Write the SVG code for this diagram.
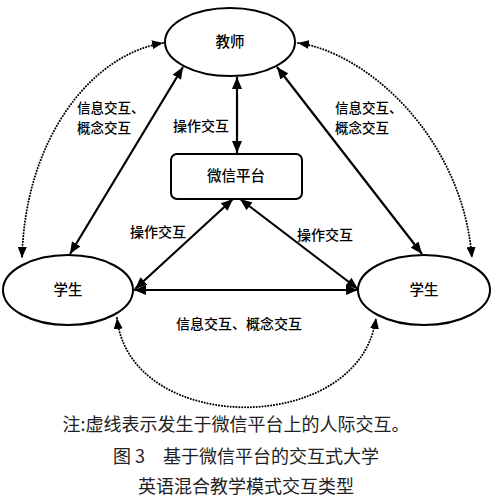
<svg xmlns="http://www.w3.org/2000/svg" width="500" height="503" viewBox="0 0 500 503">
<style>
.node{fill:#fff;stroke:#000;stroke-width:2}
.lbl{font-family:"Noto Sans CJK SC","Noto Sans",sans-serif;font-size:14px;font-weight:500;fill:#000}
.ml{font-size:13.5px}
.nt{font-family:"Noto Sans CJK SC","Noto Sans",sans-serif;font-size:14.5px;font-weight:500;fill:#000;text-anchor:middle}
.cap{font-family:"Noto Sans CJK SC","Liberation Serif",sans-serif;font-size:18px;fill:#222;text-anchor:middle}
.solid{fill:none;stroke:#000;stroke-width:2.2;marker-start:url(#ah);marker-end:url(#ah)}
.dot{fill:none;stroke:#000;stroke-width:2;stroke-dasharray:0.1 2.8;stroke-linecap:round;marker-start:url(#ah2);marker-end:url(#ah2)}
</style>
<defs>
<marker id="ah" viewBox="0 0 12 10" refX="12" refY="5" markerWidth="12" markerHeight="10" markerUnits="userSpaceOnUse" orient="auto-start-reverse"><path d="M0 0L12 5L0 10z" fill="#000"/></marker>
<marker id="ah2" viewBox="0 0 11 9" refX="11" refY="4.5" markerWidth="11" markerHeight="9" markerUnits="userSpaceOnUse" orient="auto-start-reverse"><path d="M0 0L11 4.5L0 9z" fill="#000"/></marker>
</defs>
<g id="connectors">
<line class="solid" x1="237" y1="77" x2="237" y2="153"/>
<line class="solid" x1="183" y1="67" x2="70" y2="254"/>
<line class="solid" x1="277" y1="67" x2="422" y2="254"/>
<line class="solid" x1="233" y1="199" x2="135" y2="289"/>
<line class="solid" x1="240" y1="199" x2="358" y2="289"/>
<line class="solid" x1="134" y1="290" x2="358" y2="290"/>
<path class="dot" d="M163 43C90 55 25 140 22 258"/>
<path class="dot" d="M298 43C365 52 462 135 472 258"/>
<path class="dot" d="M117 318C130 437 360 437 376 318"/>
<text class="lbl ml" x="77" y="113">信息交互、</text>
<text class="lbl ml" x="77" y="133">概念交互</text>
<text class="lbl" x="173" y="131">操作交互</text>
<text class="lbl ml" x="335" y="113">信息交互、</text>
<text class="lbl ml" x="335" y="133">概念交互</text>
<text class="lbl" x="130" y="237">操作交互</text>
<text class="lbl" x="297" y="240">操作交互</text>
<text class="lbl" x="176" y="329">信息交互、概念交互</text>
</g>
<g id="teacher"><ellipse class="node" cx="230" cy="42" rx="65" ry="34"/><text class="nt" x="230" y="47">教师</text></g>
<g id="platform"><rect class="node" x="171" y="154" width="131" height="45" rx="6"/><text class="nt" x="236" y="181">微信平台</text></g>
<g id="student-left"><ellipse class="node" cx="68" cy="290" rx="65" ry="35"/><text class="nt" x="68" y="295">学生</text></g>
<g id="student-right"><ellipse class="node" cx="424" cy="290" rx="66" ry="35"/><text class="nt" x="424" y="295">学生</text></g>
<text class="cap" x="236" y="431">注:虚线表示发生于微信平台上的人际交互。</text>
<text class="cap" x="246" y="463">图 3　基于微信平台的交互式大学</text>
<text class="cap" x="246" y="493">英语混合教学模式交互类型</text>
</svg>
